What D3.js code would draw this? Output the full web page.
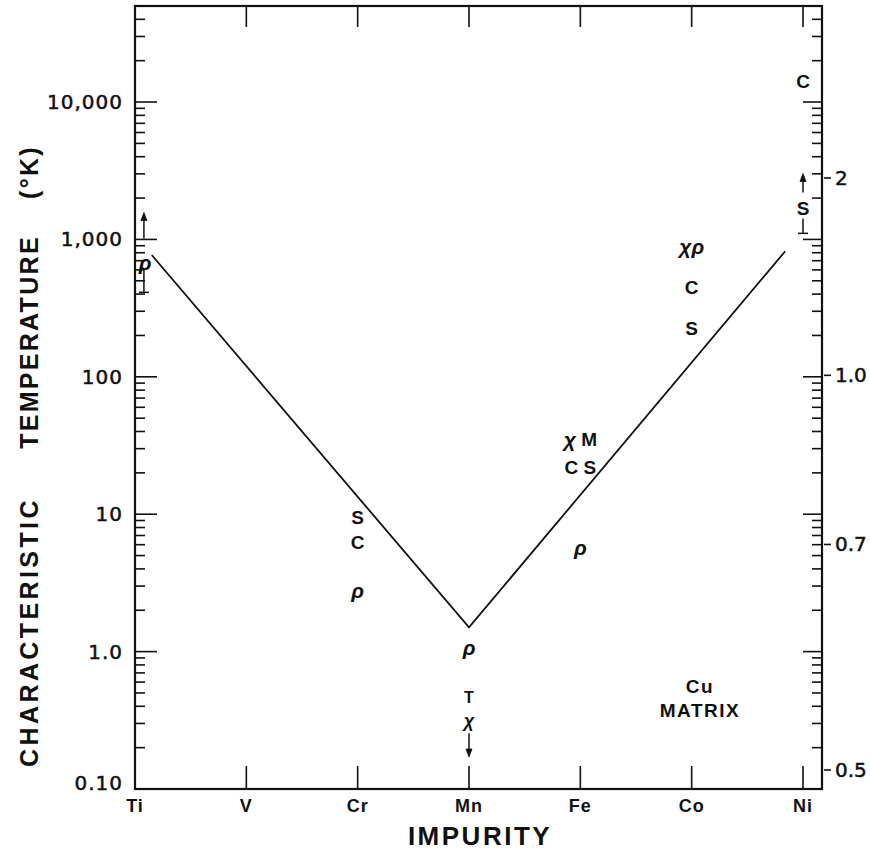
<!DOCTYPE html>
<html>
<head>
<meta charset="utf-8">
<script src="https://cdn.jsdelivr.net/npm/d3@7"></script>
<style>
  html, body { margin: 0; padding: 0; background: #fff; }
  svg { display: block; }
  text { fill: #111; }
</style>
</head>
<body>
<svg id="chart" width="870" height="851"></svg>
<script>
// Impurity elements along the horizontal axis (3d series in a Cu host)
const categories = ["Ti", "V", "Cr", "Mn", "Fe", "Co", "Ni"];

// Left axis: characteristic temperature, log scale
const leftTickValues = [0.1, 1, 10, 100, 1000, 10000];
const leftTickLabels = ["0.10", "1.0", "10", "100", "1,000", "10,000"];

// Right axis: secondary scale, linear in 1/value
const rightTickValues = [2, 1.0, 0.7, 0.5];
const rightTickLabels = ["2", "1.0", "0.7", "0.5"];

// Trend line (category index, temperature in K)
const lineIdx = [0.15, 3, 5.84];
const lineT = [770, 1.5, 820];

// Measurement symbols: position (category index), temperature, symbol
const markerIdx = [0.09, 2, 2, 2, 3, 3, 3, 4, 4, 4, 5, 5, 5, 6, 6];
const markerT = [680, 9.5, 6.3, 2.8, 1.08, 0.465, 0.315, 35, 22, 5.8, 900, 450, 225, 14300, 1700];
const markerText = ["ρ", "S", "C", "ρ", "ρ", "T", "χ", "χ M", "C S", "ρ", "χρ", "C", "S", "C", "S"];
// the limit symbols under Mn are lettered smaller
const markerSmall = [false, false, false, false, false, true, true, false, false, false, false, false, false, false, false];

// Limit arrows (from -> to, head at "to")
const arrowIdx = [0.08, 6, 3];
const arrowFrom = [1016, 2200, 0.255];
const arrowTo = [1570, 3020, 0.171];

// Range bars ending in a cap (cap at "to")
const barIdx = [0.08, 6];
const barFrom = [596, 1420];
const barTo = [412, 1107];

const matrixLabel = ["Cu", "MATRIX"];

const svg = d3.select("#chart");
svg.append("rect").attr("width", 870).attr("height", 851).attr("fill", "#fff");

const pLeft = 135, pRight = 822, pTop = 6, pBottom = 789;

const x = d3.scaleLinear().domain([0, categories.length - 1]).range([135, 803]);
const y = d3.scaleLog().domain([0.1, 50000]).range([pBottom, pTop]);
// right-hand scale is linear in the reciprocal of its value
const yInv = d3.scaleLinear().domain([0.5, 2]).range([178, 770]);
const yR = v => yInv(1 / v);

const ink = "#111";
const numFont = "'DejaVu Sans', sans-serif";
const boldFont = "'Liberation Sans', Arial, sans-serif";

// ---- frame ----
svg.append("rect")
  .attr("x", pLeft).attr("y", pTop)
  .attr("width", pRight - pLeft).attr("height", pBottom - pTop)
  .attr("fill", "none").attr("stroke", ink).attr("stroke-width", 2.2);

// ---- log ticks on left (inside) and mirrored on right (inside) ----
const isDecade = v => Math.abs(Math.log10(v) - Math.round(Math.log10(v))) < 1e-6;
const logTicks = y.ticks();
const gTicks = svg.append("g").attr("stroke", ink).attr("stroke-width", 1.6);
logTicks.forEach(t => {
  const yy = y(t);
  const major = isDecade(t);
  gTicks.append("line").attr("x1", pLeft).attr("x2", pLeft + (major ? 22 : 10))
    .attr("y1", yy).attr("y2", yy);
  gTicks.append("line").attr("x1", pRight).attr("x2", pRight - (major ? 19 : 10))
    .attr("y1", yy).attr("y2", yy);
});

// left tick labels
svg.append("g").selectAll("text").data(leftTickValues).join("text")
  .attr("x", 123)
  .attr("y", d => y(d) - (d === 0.1 ? 6 : 0))
  .attr("text-anchor", "end")
  .attr("dominant-baseline", "central")
  .attr("font-family", numFont)
  .attr("font-size", 20)
  .attr("letter-spacing", 1)
  .attr("stroke", ink).attr("stroke-width", 0.5)
  .text((d, i) => leftTickLabels[i]);

// right axis: outside ticks with labels
const gR = svg.append("g");
rightTickValues.forEach((v, i) => {
  gR.append("line").attr("x1", pRight + 2).attr("x2", pRight + 9)
    .attr("y1", yR(v)).attr("y2", yR(v))
    .attr("stroke", ink).attr("stroke-width", 1.6);
  gR.append("text")
    .attr("x", pRight + 13).attr("y", yR(v))
    .attr("dominant-baseline", "central")
    .attr("font-family", numFont)
    .attr("font-size", 20)
    .attr("stroke", ink).attr("stroke-width", 0.5)
    .text(rightTickLabels[i]);
});

// ---- category ticks on bottom and top (inside) ----
categories.forEach((c, i) => {
  if (i === 0) return;
  gTicks.append("line").attr("x1", x(i)).attr("x2", x(i))
    .attr("y1", pBottom).attr("y2", pBottom - 23);
  gTicks.append("line").attr("x1", x(i)).attr("x2", x(i))
    .attr("y1", pTop).attr("y2", pTop + 21);
});

// category labels
svg.append("g").selectAll("text").data(categories).join("text")
  .attr("x", (d, i) => x(i))
  .attr("y", 812)
  .attr("text-anchor", "middle")
  .attr("font-family", boldFont)
  .attr("font-weight", "bold")
  .attr("font-size", 18)
  .attr("letter-spacing", 1)
  .text(d => d);

// axis titles
svg.append("text")
  .attr("x", 480).attr("y", 845)
  .attr("text-anchor", "middle")
  .attr("font-family", boldFont)
  .attr("font-weight", "bold")
  .attr("font-size", 26)
  .attr("letter-spacing", 2.5)
  .text("IMPURITY");

const yTitle = svg.append("text")
  .attr("transform", "translate(38,0) rotate(-90)")
  .attr("text-anchor", "middle")
  .attr("font-family", boldFont)
  .attr("font-weight", "bold")
  .attr("font-size", 25);
[["CHARACTERISTIC", 632, 3.4], ["TEMPERATURE", 342, 2.3], ["(°K)", 172, 2.3]].forEach(([w, c, ls]) => {
  yTitle.append("tspan").attr("x", -c).attr("y", 0).attr("letter-spacing", ls).text(w);
});

// ---- trend line ----
const lineData = lineIdx.map((d, i) => [d, lineT[i]]);
svg.append("path")
  .attr("d", d3.line().x(d => x(d[0])).y(d => y(d[1]))(lineData))
  .attr("fill", "none").attr("stroke", ink).attr("stroke-width", 1.8);

// ---- measurement symbols ----
const gM = svg.append("g");
markerText.forEach((s, i) => {
  const base = markerSmall[i] ? 16 : 19;
  const t = gM.append("text")
    .attr("x", x(markerIdx[i]))
    .attr("y", y(markerT[i]))
    .attr("text-anchor", "middle")
    .attr("dominant-baseline", "central")
    .attr("font-family", boldFont)
    .attr("font-weight", "bold")
    .attr("font-size", base);
  Array.from(s).forEach(ch => {
    const greek = ch === "ρ" || ch === "χ";
    t.append("tspan")
      .attr("font-style", greek ? "italic" : "normal")
      .attr("font-size", greek ? base + 2 : base)
      .text(ch);
  });
});

// ---- limit arrows ----
const gA = svg.append("g").attr("stroke", ink).attr("fill", ink);
arrowIdx.forEach((ix, i) => {
  const xx = x(ix), y0 = y(arrowFrom[i]), y1 = y(arrowTo[i]);
  const dir = Math.sign(y1 - y0);
  gA.append("line").attr("x1", xx).attr("x2", xx)
    .attr("y1", y0).attr("y2", y1 - dir * 6).attr("stroke-width", 1.5);
  gA.append("path")
    .attr("d", `M${xx},${y1} L${xx - 3},${y1 - dir * 8} L${xx + 3},${y1 - dir * 8} Z`)
    .attr("stroke-width", 0.8);
});

// ---- range bars with end caps ----
barIdx.forEach((ix, i) => {
  const xx = x(ix), y0 = y(barFrom[i]), y1 = y(barTo[i]);
  gA.append("line").attr("x1", xx).attr("x2", xx)
    .attr("y1", y0).attr("y2", y1).attr("stroke-width", 1.5);
  gA.append("line").attr("x1", xx - 5).attr("x2", xx + 5)
    .attr("y1", y1).attr("y2", y1).attr("stroke-width", 1.5);
});

// ---- host matrix note ----
svg.append("text")
  .attr("x", 700).attr("y", 686)
  .attr("text-anchor", "middle")
  .attr("dominant-baseline", "central")
  .attr("font-family", boldFont)
  .attr("font-weight", "bold")
  .attr("font-size", 19)
  .attr("letter-spacing", 1.5)
  .selectAll("tspan").data(matrixLabel).join("tspan")
  .attr("x", 700).attr("dy", (d, i) => i === 0 ? 0 : 24)
  .text(d => d);
</script>
</body>
</html>
